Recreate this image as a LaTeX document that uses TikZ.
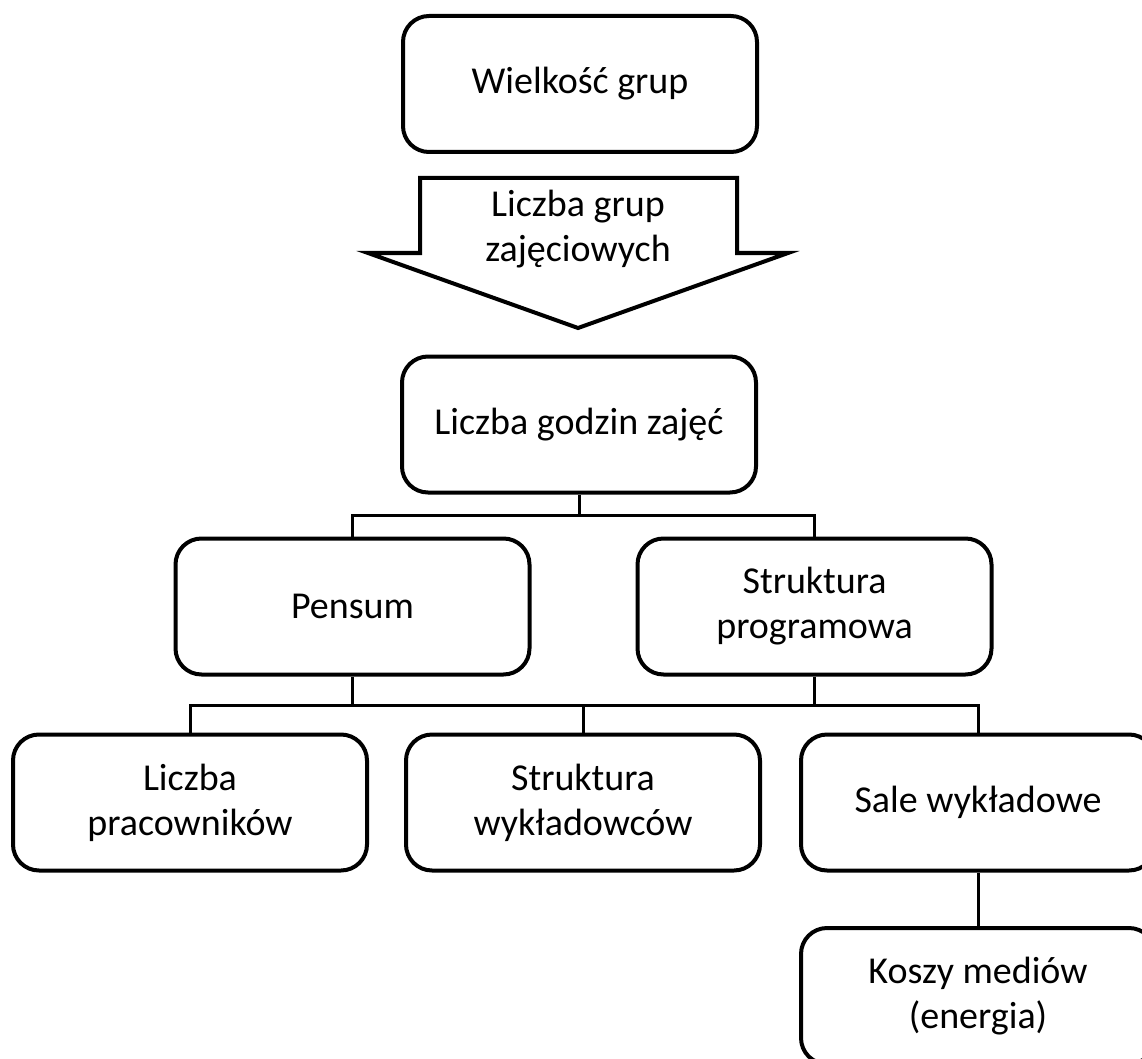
\documentclass[tikz,border=0pt]{standalone}
\usepackage{fontspec}
\setmainfont{Carlito}
\begin{document}
\begin{tikzpicture}[x=1pt,y=-1pt,
  box/.style={draw, line width=4pt, rounded corners=26pt, align=center,
    font=\fontsize{38}{45}\selectfont, inner sep=0pt,
    minimum width=354pt, minimum height=136pt},
  label/.style={align=center, font=\fontsize{38}{45}\selectfont, inner sep=0pt},
  link/.style={line width=3pt}]
\useasboundingbox (0,0) rectangle (1142,1059);
\clip (0,0) rectangle (1142,1059);

% boxes
\node[box] (wg)  at (580,84)    {Wielkość grup};
\node[box] (lgz) at (579,424.5) {Liczba godzin zajęć};
\node[box] (pen) at (352.5,606.5) {Pensum};
\node[box] (sp)  at (814.5,606.5) {Struktura\\programowa};
\node[box] (lp)  at (190,802.5) {Liczba\\pracowników};
\node[box] (sw)  at (583,802.5) {Struktura\\wykładowców};
\node[box] (sal) at (978,802.5) {Sale wykładowe};
\node[box] (km)  at (978,996)   {Koszy mediów\\(energia)};

% block arrow between the first two boxes
\draw[line width=4pt, line join=miter, fill=white]
  (420,178) -- (737,178) -- (737,253) -- (788,253) -- (578,328)
  -- (368,253) -- (420,253) -- cycle;
\node[label] (arr) at (578,229) {Liczba grup\\zajęciowych};

% connector junctions
\coordinate (j1) at (579,515);
\coordinate (j2) at (352.5,705);
\coordinate (j3) at (814.5,705);

\draw[link] (lgz.south) -- (j1);
\draw[link] (pen.north) |- (j1) -| (sp.north);

\draw[link] (pen.south) -- (j2);
\draw[link] (sp.south) -- (j3);
\draw[link] (lp.north) |- (j2) -- (j3) -| (sal.north);
\draw[link] (sw.north) -- (sw.north |- j2);

\draw[link] (sal.south) -- (km.north);
\end{tikzpicture}
\end{document}
